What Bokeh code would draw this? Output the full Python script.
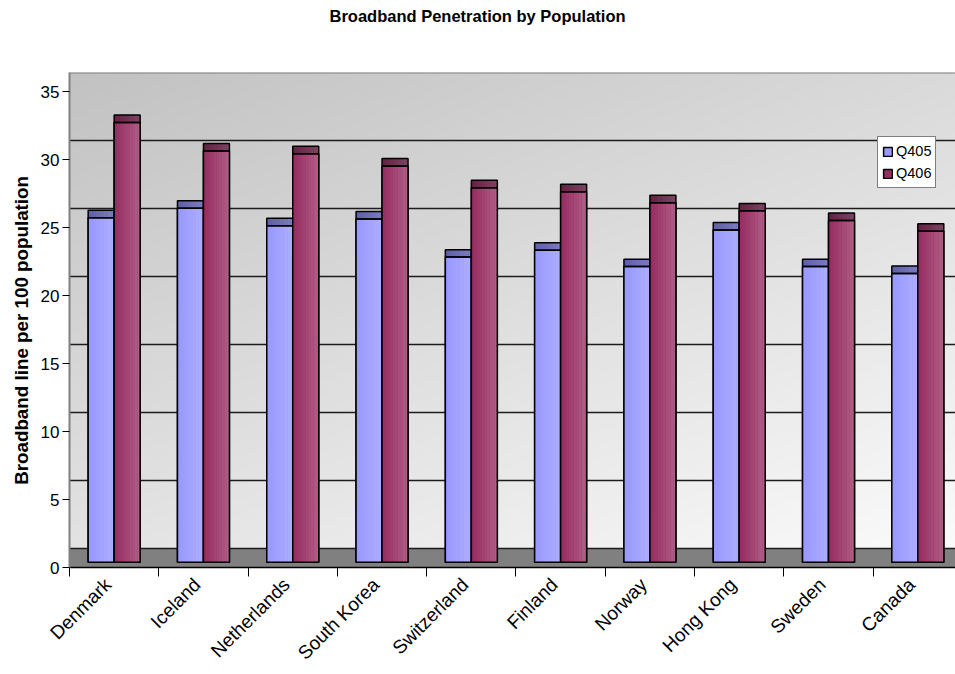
import numpy as np
from math import pi

from bokeh.plotting import figure
from bokeh.models import FixedTicker, Legend, LegendItem
from bokeh.embed import file_html
from bokeh.resources import INLINE

# ---- data -------------------------------------------------------------
countries = ["Denmark", "Iceland", "Netherlands", "South Korea", "Switzerland",
             "Finland", "Norway", "Hong Kong", "Sweden", "Canada"]
q405 = [24.9, 25.6, 24.3, 24.8, 22.0, 22.5, 21.3, 24.0, 21.3, 20.8]
q406 = [31.9, 29.8, 29.6, 28.7, 27.1, 26.8, 26.0, 25.4, 24.7, 23.9]
series_names = ["Q405", "Q406"]
y_ticks = [0, 5, 10, 15, 20, 25, 30, 35]
title_text = "Broadband Penetration by Population"

# ---- pseudo-3D geometry (value units) ---------------------------------
DEPTH = 1.375    # back wall sits this far above the front axis
CAP = 0.55       # visible top face of each column
BASE = 0.39      # foot of the columns on the floor
BAR_W = 0.291    # width of one column, in category units
X_END = 9.922
Y_END = 36.4

FONT = "Liberation Sans"

# face (left colour, right colour) and cap (left, right) for each series
styles = {
    "Q405": dict(offset=-BAR_W, face=((0x99, 0x99, 0xff), (0xad, 0xad, 0xff)),
                 cap=((0x60, 0x60, 0xaa), (0x7c, 0x7c, 0xc0))),
    "Q406": dict(offset=0.0, face=((0x96, 0x2e, 0x62), (0xb0, 0x5e, 0x86)),
                 cap=((0x66, 0x22, 0x44), (0x7c, 0x46, 0x64))),
}

p = figure(width=955, height=674, x_range=(0, X_END), y_range=(0, Y_END),
           output_backend="svg", toolbar_location=None,
           min_border_left=69, min_border_right=0,
           min_border_top=72, min_border_bottom=107)

# ---- background: diagonal grey gradient on the back wall --------------
ny, nx = 120, 200
xn = np.linspace(0, 1, nx)[None, :]
yn = 1 - np.linspace(0, 1, ny)[:, None]          # 0 at top, 1 at bottom
gray = np.clip(194 + 24 * xn + 34 * yn, 0, 255).astype(np.uint8)
img = np.empty((ny, nx), dtype=np.uint32)
view = img.view(dtype=np.uint8).reshape((ny, nx, 4))
view[..., 0] = gray
view[..., 1] = gray
view[..., 2] = gray
view[..., 3] = 255
p.image_rgba(image=[img], x=0, y=0, dw=X_END, dh=Y_END, level="image")

# floor
p.quad(left=0, right=X_END, bottom=0, top=DEPTH, fill_color="#808080", line_color=None)

# gridlines on the back wall
p.hspan(y=[t + DEPTH for t in y_ticks[:-1]], line_color="#1c1c1c", line_width=1.3)
p.hspan(y=[y_ticks[-1] + DEPTH], line_color="#808080", line_width=2.2)


def mix(c0, c1, t):
    return "#%02x%02x%02x" % tuple(int(round(a + (b - a) * t)) for a, b in zip(c0, c1))


legend_items = []
N_STRIPS = 10
for name, vals in zip(series_names, [q405, q406]):
    st = styles[name]
    left = np.array([i + 0.5 + st["offset"] for i in range(len(countries))])
    right = left + BAR_W
    v = np.array(vals)
    face_top = v + DEPTH - CAP
    cap_top = v + DEPTH

    # solid base (also the legend swatch)
    base = p.quad(left=left, right=right, bottom=BASE, top=face_top,
                  fill_color=mix(*st["face"], 0.0), line_color="black", line_width=1.5)
    p.quad(left=left, right=right, bottom=face_top, top=cap_top,
           fill_color=mix(*st["cap"], 0.0), line_color=None)

    # horizontal shading as thin strips
    for k in range(N_STRIPS):
        t = k / (N_STRIPS - 1)
        l = left + BAR_W * k / N_STRIPS
        r = left + BAR_W * (k + 1) / N_STRIPS
        p.quad(left=l, right=r, bottom=BASE, top=face_top,
               fill_color=mix(*st["face"], t), line_color=None)
        p.quad(left=l, right=r, bottom=face_top, top=cap_top,
               fill_color=mix(*st["cap"], t), line_color=None)

    # outlines
    p.quad(left=left, right=right, bottom=BASE, top=face_top,
           fill_color=None, line_color="black", line_width=1.5)
    p.quad(left=left, right=right, bottom=face_top, top=cap_top,
           fill_color=None, line_color="black", line_width=1.5)

    legend_items.append(LegendItem(label=name, renderers=[base]))

legend = Legend(items=legend_items, location=(808, 379),
                border_line_color="black", border_line_width=1,
                background_fill_color="white", background_fill_alpha=1.0,
                label_text_font=FONT, label_text_font_size="14.5px",
                label_text_color="black",
                glyph_width=11, glyph_height=11, label_standoff=3,
                padding=4, spacing=2, label_height=20, margin=0)
p.add_layout(legend)

# ---- axes ---------------------------------------------------------------
p.xgrid.visible = False
p.ygrid.visible = False
p.outline_line_color = None
p.border_fill_color = "white"

centers = [i + 0.5 for i in range(len(countries))]
label_pos = [c - 0.07 for c in centers]          # rotated labels end at the column pair
separators = [float(i) for i in range(len(countries) + 1)]

xa = p.xaxis[0]
xa.ticker = FixedTicker(ticks=label_pos, minor_ticks=separators)
xa.major_label_overrides = {c: name for c, name in zip(label_pos, countries)}
xa.major_tick_line_color = None
xa.major_tick_out = 0
xa.major_tick_in = 0
xa.minor_tick_out = 9
xa.minor_tick_in = 0
xa.minor_tick_line_color = "black"
xa.axis_line_color = "black"
xa.axis_line_width = 1.5
xa.major_label_orientation = pi / 4
xa.major_label_text_font = FONT
xa.major_label_text_font_size = "19px"
xa.major_label_text_color = "black"
xa.major_label_standoff = 5

ya = p.yaxis[0]
ya.ticker = FixedTicker(ticks=y_ticks)
ya.minor_tick_line_color = None
ya.major_tick_out = 7
ya.major_tick_in = 0
ya.major_tick_line_color = "black"
ya.axis_line_color = "#808080"
ya.axis_line_width = 2
ya.major_label_text_font = FONT
ya.major_label_text_font_size = "17px"
ya.major_label_text_color = "black"
ya.major_label_standoff = 3
# trailing no-break spaces nudge the rotated label towards the lower ticks
ya.axis_label = "Broadband line per 100 population" + "\u00a0" * 4
ya.axis_label_text_font = FONT
ya.axis_label_text_font_style = "bold"
ya.axis_label_text_font_size = "18.8px"
ya.axis_label_text_color = "black"
ya.axis_label_standoff = 6

# title: two empty trailing lines keep it at the top of the canvas
p.title.text = title_text + "\n\n"
p.title.text_font = FONT
p.title.text_font_size = "16.5px"
p.title.text_font_style = "bold"
p.title.text_color = "black"
p.title.text_line_height = 1.1
p.title.align = "left"
p.title.offset = 260
p.title.vertical_align = "top"
p.title.standoff = 12

open("out.html", "w").write(file_html(p, INLINE))
